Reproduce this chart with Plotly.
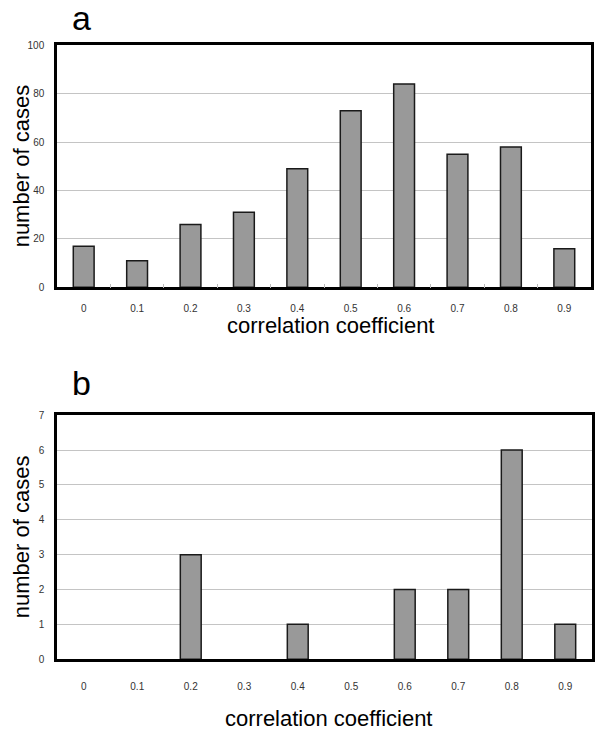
import plotly.graph_objects as go

# histogram bins (correlation coefficient)
categories = ["0", "0.1", "0.2", "0.3", "0.4", "0.5", "0.6", "0.7", "0.8", "0.9"]
counts_a = [17, 11, 26, 31, 49, 73, 84, 55, 58, 16]
counts_b = [0, 0, 3, 0, 1, 0, 2, 2, 6, 1]

W, H = 600, 739


def py(px_y):
    # pixel row -> paper fraction
    return 1 - px_y / H


def px(px_x):
    return px_x / W


bar_style = dict(marker=dict(color="#999999", line=dict(color="#1a1a1a", width=1.5)),
                 showlegend=False, hoverinfo="x+y")

fig = go.Figure()
fig.add_trace(go.Bar(x=categories, y=[v or None for v in counts_a], xaxis="x", yaxis="y", **bar_style))
fig.add_trace(go.Bar(x=categories, y=[v or None for v in counts_b], xaxis="x2", yaxis="y2", **bar_style))

tick_font = dict(family="Liberation Sans, Arial, sans-serif", size=10, color="#333333")
frame = dict(showline=True, linecolor="black", linewidth=2.5, mirror=True)

xa = dict(type="category", tickfont=tick_font, showgrid=False, zeroline=False,
          fixedrange=True, **frame)
ya = dict(tickfont=tick_font, showgrid=True, gridcolor="#c4c4c4", gridwidth=1,
          zeroline=False, ticks="", ticklabelstandoff=8, **frame)

fig.update_layout(
    width=W, height=H,
    margin=dict(l=0, r=0, t=0, b=0),
    paper_bgcolor="white", plot_bgcolor="white",
    bargap=0.61,
    xaxis=dict(domain=[px(57), px(591)], anchor="y", ticks="inside", ticklen=4,
               tickcolor="#bbbbbb", tickson="boundaries", ticklabelstandoff=10, **xa),
    yaxis=dict(domain=[py(286), py(40)], anchor="x", range=[0, 100], dtick=20, **ya),
    xaxis2=dict(domain=[px(57), px(592)], anchor="y2", ticks="", ticklabelstandoff=16, **xa),
    yaxis2=dict(domain=[py(664), py(416)], anchor="x2", range=[0, 7], dtick=1, **ya),
)

title_font = dict(family="Liberation Sans, Arial, sans-serif", size=22, color="black")
letter_font = dict(family="Liberation Sans, Arial, sans-serif", size=34, color="black")

annotations = [
    dict(text="a", x=px(81), y=py(12), font=letter_font),
    dict(text="b", x=px(81), y=py(383), font=letter_font),
    dict(text="number of cases", x=px(21), y=py(163), textangle=-90, font=title_font),
    dict(text="number of cases", x=px(21), y=py(540), textangle=-90, font=title_font),
    dict(text="correlation coefficient", x=px(331), y=py(325), font=title_font),
    dict(text="correlation coefficient", x=px(329), y=py(724), font=title_font),
]
for a in annotations:
    fig.add_annotation(xref="paper", yref="paper", showarrow=False,
                       xanchor="center", yanchor="middle", **a)

# drop the default 8px body margin so the 600x739 figure fills the window
fig.write_html("out.html", config={"displayModeBar": False},
               post_script="document.body.style.margin='0';")
